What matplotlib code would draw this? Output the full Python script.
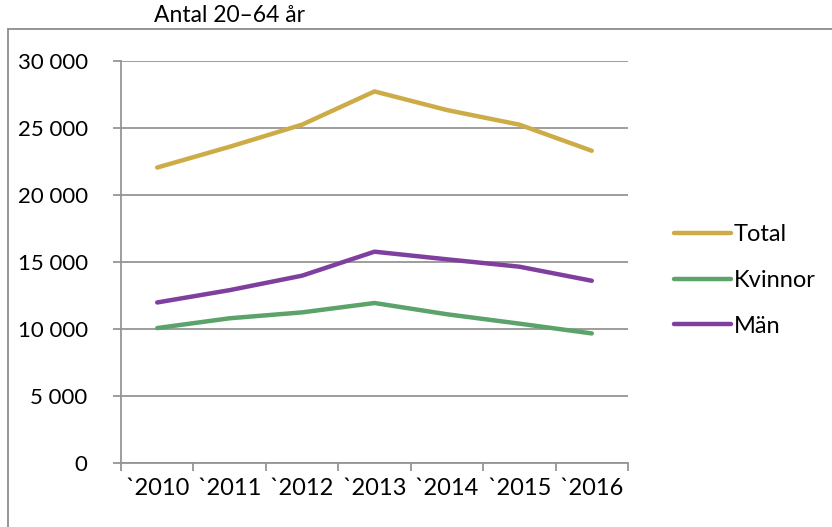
import matplotlib.pyplot as plt
from matplotlib.lines import Line2D
from matplotlib.ticker import FuncFormatter, FixedLocator, NullFormatter

years = ["`2010", "`2011", "`2012", "`2013", "`2014", "`2015", "`2016"]
total = [22050, 23600, 25250, 27730, 26340, 25250, 23300]
kvinnor = [10070, 10800, 11240, 11940, 11100, 10400, 9670]
man = [11980, 12900, 13980, 15770, 15200, 14650, 13600]

series = [("Total", total, "#CDAB47"), ("Kvinnor", kvinnor, "#5BA36A"), ("Män", man, "#7F3F9E")]
grid_col = "#959595"

plt.rcParams["font.family"] = ["Lato", "DejaVu Sans"]

fig = plt.figure(figsize=(8.32, 5.27), dpi=100)
ax = fig.add_axes([121 / 832, 1 - 463 / 527, (628 - 121) / 832, (463 - 61) / 527])

x = list(range(len(years)))
for name, vals, col in series:
    ax.plot(x, vals, color=col, lw=3.2, solid_capstyle="round", solid_joinstyle="round", label=name)

ax.set_xlim(-0.5, len(years) - 0.5)
ax.set_ylim(0, 30000)
ax.set_yticks(range(0, 30001, 5000))
ax.yaxis.set_major_formatter(FuncFormatter(lambda v, p: f"{int(v):,}".replace(",", " ")))
ax.grid(axis="y", color=grid_col, lw=1.3)
ax.set_axisbelow(True)

ax.xaxis.set_major_locator(FixedLocator([i - 0.5 for i in range(len(years) + 1)]))
ax.xaxis.set_major_formatter(NullFormatter())
ax.xaxis.set_minor_locator(FixedLocator(x))
ax.set_xticklabels(years, minor=True)
ax.tick_params(axis="x", which="minor", length=0, labelsize=17, pad=11)
ax.tick_params(axis="x", which="major", length=6, color=grid_col, width=1.3)
ax.tick_params(axis="y", length=6, color=grid_col, width=1.3, labelsize=16, pad=18)

for s in ["top", "right"]:
    ax.spines[s].set_visible(False)
for s in ["left", "bottom"]:
    ax.spines[s].set_color(grid_col)
    ax.spines[s].set_linewidth(1.3)

handles = [Line2D([0], [0], color=c, lw=3.2, solid_capstyle="round") for _, _, c in series]
fig.legend(handles, [n for n, _, _ in series], loc="center left", bbox_to_anchor=(0.785, 0.468),
           frameon=False, fontsize=17, handlelength=2.4, handletextpad=0.1, labelspacing=1.05)

fig.text(230 / 832, 1 - 16 / 527, "Antal 20–64 år", ha="center", va="center", fontsize=16.5)

# outer chart border (right/bottom edges fall outside the image)
fig.add_artist(plt.Rectangle((8 / 832, -0.05), 1.0, 1 - 29 / 527 + 0.05, transform=fig.transFigure,
                             fill=False, edgecolor="#8c8c8c", lw=1.3))

fig.savefig("out.png", dpi=100)
